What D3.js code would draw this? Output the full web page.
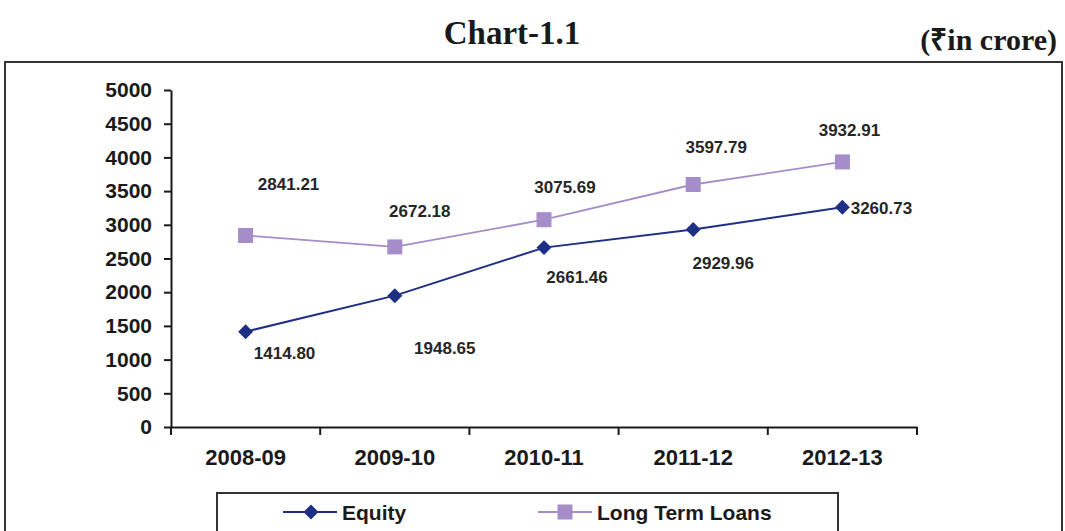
<!DOCTYPE html>
<html>
<head>
<meta charset="utf-8">
<script src="https://cdn.jsdelivr.net/npm/d3@7"></script>
<style>
  html, body { margin: 0; padding: 0; background: #fff; }
  svg { display: block; }
</style>
</head>
<body>
<svg id="chart" width="1065" height="531"></svg>
<script>
// Years on the horizontal axis
const categories = ["2008-09", "2009-10", "2010-11", "2011-12", "2012-13"];
// Equity (₹ in crore)
const equity = [1414.80, 1948.65, 2661.46, 2929.96, 3260.73];
// Long term loans (₹ in crore)
const longTermLoans = [2841.21, 2672.18, 3075.69, 3597.79, 3932.91];
// Value axis ticks
const yTicks = [0, 500, 1000, 1500, 2000, 2500, 3000, 3500, 4000, 4500, 5000];

(function () {
const svg = d3.select("#chart");

const plotLeft = 171, plotRight = 917, plotTop = 90, plotBottom = 427;

const x = d3.scaleBand().domain(categories).range([plotLeft, plotRight]).paddingInner(0).paddingOuter(0);
const y = d3.scaleLinear().domain([0, 5000]).range([plotBottom, plotTop]);

const navy = "#1e2f86";
const lavender = "#a58dc9";
const ink = "#1a1a1a";

// Title and unit note
svg.append("text")
  .attr("x", 512).attr("y", 44)
  .attr("text-anchor", "middle")
  .attr("font-family", "'Liberation Serif', 'Times New Roman', serif")
  .attr("font-weight", "bold").attr("font-size", 33)
  .attr("fill", ink)
  .text("Chart-1.1");

svg.append("text")
  .attr("x", 1057).attr("y", 50)
  .attr("text-anchor", "end")
  .attr("font-family", "'Liberation Serif', 'Times New Roman', serif")
  .attr("font-weight", "bold").attr("font-size", 30)
  .attr("fill", ink)
  .text("(₹in crore)");

// Outer frame (runs off the bottom edge)
svg.append("rect")
  .attr("x", 5).attr("y", 62)
  .attr("width", 1057).attr("height", 500)
  .attr("fill", "none").attr("stroke", "#333").attr("stroke-width", 2);

// Y axis
const yAxis = svg.append("g")
  .attr("transform", `translate(${plotLeft},0)`)
  .call(d3.axisLeft(y).tickValues(yTicks).tickFormat(d3.format("d"))
    .tickSize(7).tickPadding(12).tickSizeOuter(0));
yAxis.select(".domain").attr("stroke", ink).attr("stroke-width", 2);
yAxis.selectAll(".tick line").attr("stroke", ink).attr("stroke-width", 2);
yAxis.selectAll(".tick text")
  .attr("font-family", "'Liberation Sans', Arial, sans-serif")
  .attr("font-weight", "bold").attr("font-size", 21)
  .attr("fill", ink);

// X axis: labels at band centres, tick marks on band boundaries
const xAxis = svg.append("g")
  .attr("transform", `translate(0,${plotBottom})`)
  .call(d3.axisBottom(x).tickSize(0).tickPadding(22).tickSizeOuter(0));
xAxis.select(".domain").attr("stroke", ink).attr("stroke-width", 2);
xAxis.selectAll(".tick text")
  .attr("font-family", "'Liberation Sans', Arial, sans-serif")
  .attr("font-weight", "bold").attr("font-size", 22)
  .attr("fill", ink);

const edges = categories.map(c => x(c)).concat([x.range()[1]]);
xAxis.selectAll("line.edge")
  .data(edges)
  .join("line")
  .attr("class", "edge")
  .attr("x1", d => d).attr("x2", d => d)
  .attr("y1", 0).attr("y2", 8)
  .attr("stroke", ink).attr("stroke-width", 2);

const cx = c => x(c) + x.bandwidth() / 2;

const line = d3.line()
  .x((d, i) => cx(categories[i]))
  .y(d => y(d));

// Long term loans series
svg.append("path")
  .datum(longTermLoans)
  .attr("d", line)
  .attr("fill", "none").attr("stroke", lavender).attr("stroke-width", 1.8);

svg.selectAll("rect.loan")
  .data(longTermLoans)
  .join("rect")
  .attr("class", "loan")
  .attr("x", (d, i) => cx(categories[i]) - 7.5)
  .attr("y", d => y(d) - 7.5)
  .attr("width", 15).attr("height", 15)
  .attr("fill", lavender);

// Equity series
svg.append("path")
  .datum(equity)
  .attr("d", line)
  .attr("fill", "none").attr("stroke", navy).attr("stroke-width", 2);

// Diamond marker: a square turned 45 degrees
const diamond = d3.symbol().type(d3.symbolSquare).size(112);
svg.selectAll("path.eq")
  .data(equity)
  .join("path")
  .attr("class", "eq")
  .attr("transform", (d, i) => `translate(${cx(categories[i])},${y(d)}) rotate(45)`)
  .attr("d", diamond)
  .attr("fill", navy);

// Value labels, offset from each point
const labelFont = "'Liberation Sans', Arial, sans-serif";
const loanOffsets = [[43, -51], [25, -35], [21, -32], [23, -37], [7, -31]];
const equityOffsets = [[39, 22], [50, 53], [33, 30], [30, 34], [39, 1]];

function drawLabels(values, offsets, cls) {
  svg.selectAll("text." + cls)
    .data(values)
    .join("text")
    .attr("class", cls)
    .attr("x", (d, i) => cx(categories[i]) + offsets[i][0])
    .attr("y", (d, i) => y(d) + offsets[i][1])
    .attr("text-anchor", "middle")
    .attr("dominant-baseline", "central")
    .attr("font-family", labelFont)
    .attr("font-weight", "bold").attr("font-size", 17)
    .attr("fill", "#262626")
    .text(d => d.toFixed(2));
}
drawLabels(longTermLoans, loanOffsets, "lbl-loan");
drawLabels(equity, equityOffsets, "lbl-eq");

// Legend
const lg = svg.append("g");
lg.append("rect")
  .attr("x", 217).attr("y", 493)
  .attr("width", 621).attr("height", 60)
  .attr("fill", "#fff").attr("stroke", "#333").attr("stroke-width", 2);

const legendItems = [
  { name: "Equity", color: navy, marker: "diamond", x0: 283 },
  { name: "Long Term Loans", color: lavender, marker: "square", x0: 538 }
];
const ly = 512;
legendItems.forEach(it => {
  lg.append("line")
    .attr("x1", it.x0).attr("x2", it.x0 + 54)
    .attr("y1", ly).attr("y2", ly)
    .attr("stroke", it.color).attr("stroke-width", 2);
  if (it.marker === "diamond") {
    lg.append("path")
      .attr("transform", `translate(${it.x0 + 28},${ly}) rotate(45)`)
      .attr("d", diamond).attr("fill", it.color);
  } else {
    lg.append("rect")
      .attr("x", it.x0 + 27 - 7.5).attr("y", ly - 7.5)
      .attr("width", 15).attr("height", 15)
      .attr("fill", it.color);
  }
  lg.append("text")
    .attr("x", it.x0 + 59).attr("y", ly)
    .attr("dominant-baseline", "central")
    .attr("font-family", labelFont)
    .attr("font-weight", "bold").attr("font-size", 21)
    .attr("fill", ink)
    .text(it.name);
});
})();
</script>
</body>
</html>
